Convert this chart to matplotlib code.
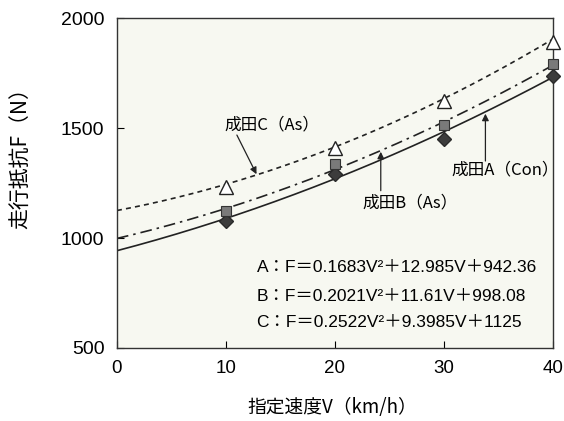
import numpy as np
import matplotlib
matplotlib.use("Agg")
import matplotlib.pyplot as plt

# measured running resistance at each set speed
speeds = [10, 20, 30, 40]
force_a = [1076, 1290, 1452, 1737]   # 成田A(Con)
force_b = [1125, 1338, 1515, 1792]   # 成田B(As)
force_c = [1234, 1411, 1624, 1891]   # 成田C(As)

# quadratic fits F = a V^2 + b V + c
coef_a = [0.1683, 12.985, 942.36]
coef_b = [0.2021, 11.61, 998.08]
coef_c = [0.2522, 9.3985, 1125]

eq_labels = [
    "A：F＝0.1683V²＋12.985V＋942.36",
    "B：F＝0.2021V²＋11.61V＋998.08",
    "C：F＝0.2522V²＋9.3985V＋1125",
]

jp = ["Noto Sans CJK JP", "DejaVu Sans"]
num = ["Liberation Sans", "Noto Sans CJK JP"]

fig = plt.figure(figsize=(5.64, 4.21), dpi=100)
ax = fig.add_axes([0.2074, 0.1734, 0.7731, 0.7838])
ax.set_facecolor("#f7f8f1")

v = np.linspace(0, 40, 200)
for coef, ls in [(coef_a, "-"), (coef_b, (0, (7, 3, 1.5, 3))), (coef_c, (0, (3, 2.5)))]:
    ax.plot(v, np.polyval(coef, v), color="#222222", lw=1.2, ls=ls, zorder=2)

ax.plot(speeds, force_a, "D", ms=7, color="#3c3c3c", mec="#2a2a2a",
        zorder=3, clip_on=False)
ax.plot(speeds, force_b, "s", ms=7, color="#7a7a7a", mec="#333333", mew=0.8,
        zorder=3, clip_on=False)
ax.plot(speeds, force_c, "^", ms=10, mfc="white", mec="#222222", mew=1.0,
        zorder=3, clip_on=False)

arrow = dict(arrowstyle="-|>", color="#222222", lw=0.9, mutation_scale=10,
             shrinkA=0, shrinkB=0)
ax.annotate("", xy=(12.8, 1290), xytext=(11.0, 1468), arrowprops=arrow)
ax.text(14.2, 1514, "成田C（As）", family=jp, fontsize=12, ha="center", va="center")
ax.annotate("", xy=(24.2, 1392), xytext=(24.2, 1215), arrowprops=arrow)
ax.text(26.9, 1159, "成田B（As）", family=jp, fontsize=12, ha="center", va="center")
ax.annotate("", xy=(33.8, 1565), xytext=(33.8, 1350), arrowprops=arrow)
ax.text(35.6, 1309, "成田A（Con）", family=jp, fontsize=12, ha="center", va="center")

for label, y in zip(eq_labels, [864, 732, 614]):
    ax.text(12.8, y, label, family=num, fontsize=12.5, ha="left", va="center")

ax.set_xlim(0, 40)
ax.set_ylim(500, 2000)
ax.set_xticks([0, 10, 20, 30, 40])
ax.set_yticks([500, 1000, 1500, 2000])
ax.tick_params(direction="in", length=5, width=0.8, pad=9)
ax.tick_params(axis="y", labelsize=14)
ax.tick_params(axis="x", labelsize=13.5)
for lab in ax.get_xticklabels() + ax.get_yticklabels():
    lab.set_family(num)
for s in ax.spines.values():
    s.set_linewidth(1.0)
    s.set_color("#333333")

ax.set_xlabel("指定速度V（km/h）", family=jp, fontsize=13.5)
ax.set_ylabel("走行抵抗F（N）", family=jp, fontsize=15)
ax.xaxis.set_label_coords(0.493, -0.15)
ax.yaxis.set_label_coords(-0.196, 0.59)

fig.savefig("out.png", dpi=100)
